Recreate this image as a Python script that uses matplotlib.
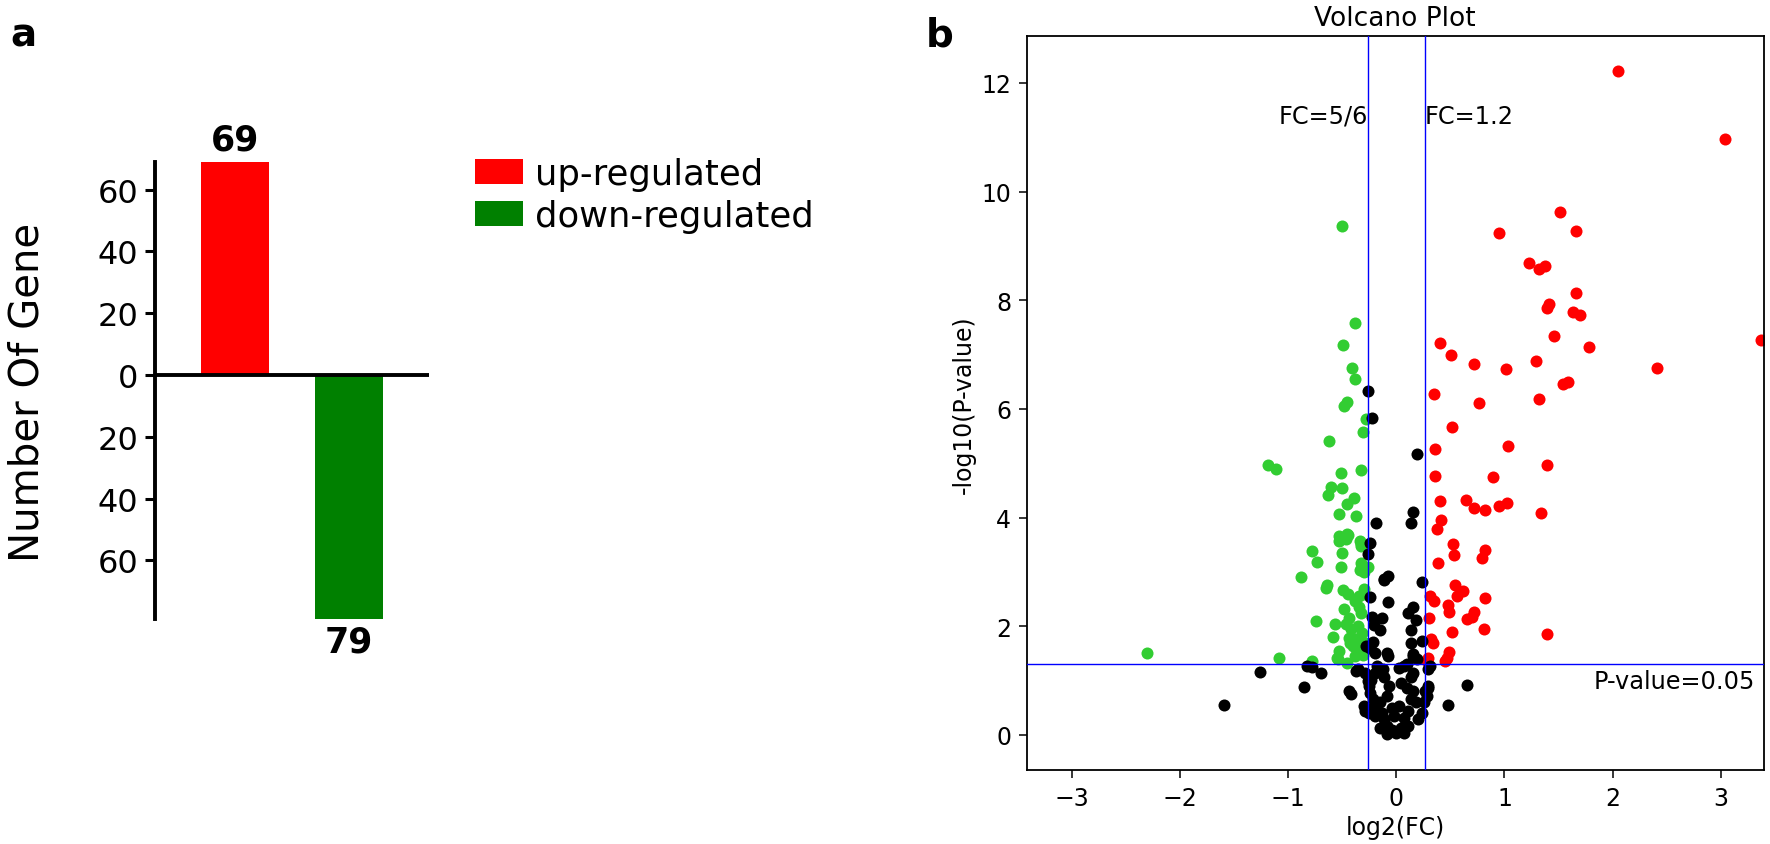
"""
Figura: numero de genes diferenciales (a) y volcano plot (b)
"""

import numpy as np
import matplotlib
matplotlib.use('Agg')
import matplotlib.pyplot as plt

# ---- datos panel a ----
bar_labels = ['up-regulated', 'down-regulated']
bar_counts = [69, -79]
bar_colors = ['#ff0000', '#008000']
bar_ticks = [60, 40, 20, 0, -20, -40, -60]
bar_tick_labels = ['60', '40', '20', '0', '20', '40', '60']

# ---- datos panel b ----
up_x = [2.05, 3.04, 3.37, 2.41, 1.66, 1.66, 1.63, 1.70, 1.78,
        1.51, 0.948, 1.226, 1.321, 1.377, 1.414, 1.396, 1.457, 0.408, 0.507,
        0.72, 1.013, 1.296,
        1.543, 1.589, 0.35, 0.766, 1.318, 0.519, 0.353, 1.035, 1.393, 0.359,
        0.896, 0.403, 0.643, 0.72, 0.822, 0.945, 1.022, 1.337, 0.415, 0.372,
        0.526, 0.822, 0.535, 0.788, 0.384, 0.538, 0.612, 0.557, 0.31, 0.347,
        0.819, 0.474, 0.483, 0.65, 0.717, 0.699, 0.298, 0.806, 0.519, 1.396,
        0.323, 0.341, 0.489, 0.464, 0.295, 0.279, 0.449]
up_y = [12.22, 10.97, 7.27, 6.75, 9.27, 8.13, 7.78, 7.73, 7.15,
        9.63, 9.23, 8.69, 8.58, 8.63, 7.93, 7.85, 7.35, 7.21, 6.99,
        6.83, 6.73, 6.88,
        6.46, 6.50, 6.27, 6.11, 6.18, 5.66, 5.27, 5.31, 4.97, 4.77,
        4.75, 4.30, 4.32, 4.18, 4.15, 4.22, 4.27, 4.08, 3.96, 3.80,
        3.52, 3.40, 3.31, 3.25, 3.16, 2.76, 2.65, 2.56, 2.56, 2.47,
        2.52, 2.39, 2.26, 2.14, 2.27, 2.18, 2.15, 1.96, 1.90, 1.86,
        1.76, 1.69, 1.53, 1.42, 1.42, 1.36, 1.37]

down_x = [-0.504, -0.387, -0.495, -0.414, -0.384, -0.461, -0.489, -0.282,
          -0.307, -0.621, -1.19, -1.117, -0.51, -0.325, -0.606, -0.507,
          -0.63, -0.396, -0.458, -0.535, -0.377, -0.529, -0.444, -0.529,
          -0.47, -0.337, -0.331, -0.778, -0.501, -0.732, -0.516, -0.331,
          -0.267, -0.337, -0.886, -0.637, -0.652, -0.492, -0.446, -0.384,
          -0.344, -0.295, -0.486, -0.331, -0.745, -0.569, -0.467, -0.353,
          -0.59, -0.437, -0.353, -0.4, -0.529, -1.085, -0.777, -0.553,
          -0.322, -2.31, -0.43, -0.369, -0.32, -0.46, -0.31, -0.537,
          -0.455, -0.33, -0.30, -0.35, -0.44, -0.30, -0.42, -0.38, -0.29]
down_y = [9.37, 7.59, 7.18, 6.75, 6.55, 6.13, 6.05, 5.81,
          5.57, 5.41, 4.97, 4.89, 4.82, 4.87, 4.56, 4.54,
          4.41, 4.36, 4.26, 4.06, 4.03, 3.66, 3.68, 3.57,
          3.61, 3.57, 3.47, 3.39, 3.35, 3.19, 3.10, 3.16,
          3.10, 3.04, 2.91, 2.76, 2.70, 2.66, 2.59, 2.47,
          2.56, 2.68, 2.31, 2.24, 2.09, 2.04, 2.04, 2.01,
          1.81, 1.79, 1.73, 1.64, 1.55, 1.41, 1.37, 1.42,
          1.58, 1.50, 1.70, 1.76, 1.88, 1.33, 1.48, 1.40,
          3.70, 3.52, 2.60, 2.35, 2.15, 3.00, 1.95, 1.45, 1.70]

ns_x = [-0.26, -0.227, 0.19, 0.15, 0.137, -0.184, -0.245, -0.26, -0.116,
        -0.079, 0.233, -0.245, -0.073, 0.156, 0.11, -0.23, -0.137, 0.18,
        -0.209, -0.153, 0.134, -0.215, -0.282, 0.131, 0.233, -0.2, -0.085,
        0.156, -0.243, -0.11,
        -1.593, -1.257, -0.854, -0.827, -0.783, -0.699, -0.44, -0.42, -0.376,
        -0.354, -0.30, -0.288, 0.478, 0.65, 0.288, 0.31, 0.279, 0.265, 0.235,
        0.066, 0.155, 0.133, 0.044, 0.10, 0.155, 0.133, 0.177, 0.11, 0.066,
        0.044, 0.0, -0.044, -0.088, -0.11, -0.133, -0.2, -0.22, -0.243,
        -0.252, -0.234, -0.2, -0.177, -0.11, -0.066, -0.088, -0.155, -0.044,
        0.022, -0.022, -0.088, 0.075, -0.2, -0.252, -0.155, 0.11, 0.2, 0.252,
        0.288, -0.288, -0.265, -0.075, 0.155, 0.19, 0.022, 0.10, -0.122, 0.294]
ns_y = [6.33, 5.84, 5.18, 4.10, 3.91, 3.90, 3.54, 3.34, 2.85,
        2.93, 2.82, 2.54, 2.44, 2.36, 2.24, 2.18, 2.15, 2.11,
        2.02, 1.93, 1.93, 1.71, 1.63, 1.70, 1.73, 1.51, 1.50,
        1.49, 1.61, 2.87,
        0.546, 1.16, 0.89, 1.27, 1.26, 1.15, 0.81, 0.75, 1.18,
        1.21, 0.53, 0.44, 0.546, 0.914, 1.21, 1.27, 0.72, 0.81, 0.41,
        1.27, 1.15, 1.06, 0.96, 0.87, 0.81, 0.66, 0.60, 0.44, 0.32,
        0.13, 0.04, 0.10, 0.17, 0.29, 0.41, 0.53, 0.66, 0.78,
        0.90, 1.02, 1.15, 1.27, 1.06, 0.90, 0.72, 0.60, 0.50,
        0.53, 0.35, 0.01, 0.04, 0.35, 0.41, 0.13, 0.17, 0.29, 0.60,
        0.90, 1.15, 0.99, 1.45, 1.45, 1.39, 1.24, 1.30, 1.21, 0.86]

fc_up = 1.2
fc_down = 5 / 6
p_cut = 0.05


def panel_a(fig):
    ax = fig.add_axes([0.0876, 0.2663, 0.1548, 0.541])
    pos = [0, 1]
    bars = ax.bar(pos, bar_counts, width=0.6, color=bar_colors)
    ax.axhline(0, color='black', lw=2.8, zorder=3)
    ax.set_xlim(-0.7, 1.7)
    ax.set_ylim(-79, 69)
    for s in ['top', 'right', 'bottom']:
        ax.spines[s].set_visible(False)
    ax.spines['left'].set_linewidth(2.8)
    ax.set_xticks([])
    ax.set_yticks(bar_ticks)
    ax.set_yticklabels(bar_tick_labels)
    ax.tick_params(axis='y', labelsize=23, length=7, width=2.2, pad=5)

    # numeros encima / debajo de cada barra
    for p, v in zip(pos, bar_counts):
        ax.annotate(str(abs(v)), (p, v), xytext=(0, 4 if v > 0 else -4),
                    textcoords='offset points', ha='center',
                    va='bottom' if v > 0 else 'top',
                    fontsize=25, fontweight='bold')

    fig.text(0.0158, 0.536, 'Number Of Gene', rotation=90, fontsize=29,
             ha='center', va='center')
    fig.legend([bars[0], bars[1]], bar_labels, loc='upper left',
               bbox_to_anchor=(0.2684, 0.813), frameon=False, fontsize=25.5,
               handlelength=1.34, handleheight=0.7, handletextpad=0.35,
               labelspacing=0.22, borderpad=0, borderaxespad=0)


def panel_b(fig):
    ax = fig.add_axes([0.580, 0.0872, 0.4166, 0.8687])
    ax.scatter(down_x, down_y, s=75, color='#32cd32', linewidths=0, zorder=2)
    ax.scatter(up_x, up_y, s=75, color='#ff0000', linewidths=0, zorder=2)
    ax.scatter(ns_x, ns_y, s=75, color='black', linewidths=0, zorder=2)

    ax.axvline(np.log2(fc_down), color='blue', lw=1.0, zorder=3)
    ax.axvline(np.log2(fc_up), color='blue', lw=1.0, zorder=3)
    ax.axhline(-np.log10(p_cut), color='blue', lw=1.0, zorder=3)

    ax.text(np.log2(fc_down), 11.4, 'FC=5/6', ha='right', va='center', fontsize=17.3)
    ax.text(np.log2(fc_up), 11.4, 'FC=1.2', ha='left', va='center', fontsize=17.3)
    ax.text(3.32, 1.0, 'P-value=0.05', ha='right', va='center', fontsize=17.3)

    ax.set_xlim(-3.42, 3.40)
    ax.set_ylim(-0.65, 12.86)
    ax.set_xticks([-3, -2, -1, 0, 1, 2, 3])
    ax.set_yticks([0, 2, 4, 6, 8, 10, 12])
    ax.tick_params(labelsize=17, length=5.5, width=1.1, pad=5.5)
    for s in ax.spines.values():
        s.set_linewidth(1.3)
    ax.set_title('Volcano Plot', fontsize=19, pad=8)
    ax.set_xlabel('log2(FC)', fontsize=17)
    ax.set_ylabel('-log10(P-value)', fontsize=17)


def main():
    fig = plt.figure(figsize=(17.7, 8.45), dpi=100)
    panel_a(fig)
    panel_b(fig)
    fig.text(0.006, 0.945, 'a', fontsize=28, fontweight='bold', va='baseline')
    fig.text(0.523, 0.945, 'b', fontsize=28, fontweight='bold', va='baseline')
    fig.savefig('out.png', dpi=100)
    plt.close(fig)


if __name__ == "__main__":
    main()
